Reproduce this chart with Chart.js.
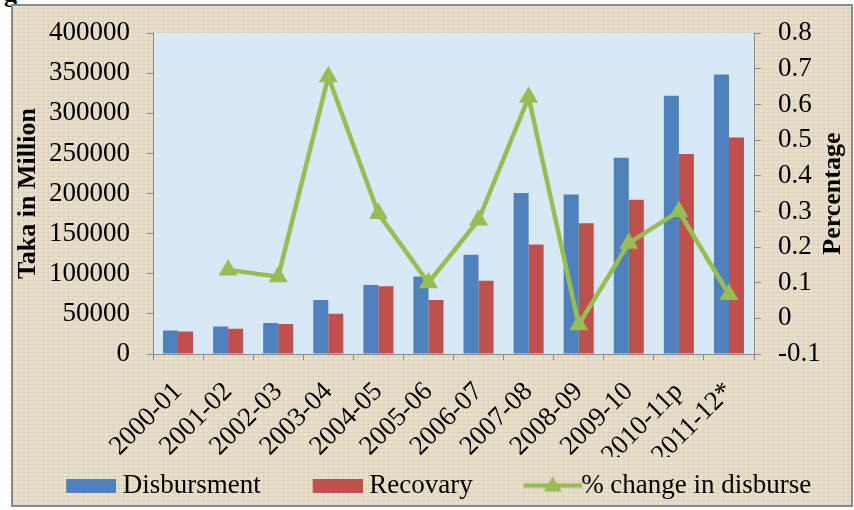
<!DOCTYPE html>
<html><head><meta charset="utf-8">
<script src="https://cdn.jsdelivr.net/npm/chart.js@4/dist/chart.umd.min.js"></script>
<style>
html,body{margin:0;padding:0;background:#fff;width:854px;height:510px;overflow:hidden;position:relative;}
#cut{position:absolute;left:4px;top:-21px;font:bold 26px "Liberation Serif",serif;color:#000;}
#frame{position:absolute;left:11px;top:4px;width:838px;height:499px;border:2px solid #8a8a8a;
 background-color:#e8dfcb;
 background-image:repeating-linear-gradient(0deg,rgba(140,120,90,.10) 0 1px,transparent 1px 4px),
 repeating-linear-gradient(90deg,rgba(140,120,90,.09) 0 1px,transparent 1px 5px);}
#wrap{position:absolute;left:0;top:0;width:854px;height:510px;}
</style></head>
<body>
<div id="cut">g</div>
<div id="frame"></div>
<div id="wrap"><canvas id="c" width="854" height="510"></canvas></div>
<script>
const categories = ['2000-01','2001-02','2002-03','2003-04','2004-05','2005-06','2006-07','2007-08','2008-09','2009-10','2010-11p','2011-12*'];
const disbursement = [29400,34300,38800,67300,86000,96600,123900,200600,199000,244600,322100,348600];
const recovery = [28100,31400,37500,50200,84400,67300,91300,136600,163100,192400,249500,270000];
const pctChange = [null,0.136,0.117,0.678,0.294,0.100,0.276,0.620,-0.018,0.211,0.300,0.067];
const seriesNames = ['Disbursment','Recovary','% change in disburse'];
const leftAxisTitle = 'Taka in Million';
const rightAxisTitle = 'Percentage';

const BLUE='#4f81bd', RED='#c0504d', GREEN='#98bd55';
const FAM='"Liberation Serif","Times New Roman",serif';
Chart.defaults.font.family = FAM;
Chart.defaults.color = '#000';

function boxImg(color){
  const c=document.createElement('canvas'); c.width=94; c.height=14;
  const g=c.getContext('2d'); g.fillStyle=color; g.fillRect(44,0,50,14); return c;
}
function lineImg(color){
  const c=document.createElement('canvas'); c.width=108; c.height=22;
  const g=c.getContext('2d');
  g.strokeStyle=color; g.lineWidth=4.5; g.beginPath(); g.moveTo(50,11); g.lineTo(108,11); g.stroke();
  g.fillStyle=color; g.beginPath(); g.moveTo(79,2); g.lineTo(88,17); g.lineTo(70,17); g.closePath(); g.fill();
  return c;
}
const legendImgs=[boxImg(BLUE),boxImg(RED),lineImg(GREEN)];

const plotBg={id:'plotBg',beforeDraw(chart){const {ctx,chartArea:a}=chart;ctx.save();ctx.fillStyle='#d9e8f5';ctx.fillRect(a.left,a.top,a.right-a.left,a.bottom-a.top);ctx.restore();}};
const rightTitle={id:'rightTitle',afterDraw(chart){const {ctx,chartArea:a}=chart;const s=chart.scales.y2;ctx.save();ctx.translate(833,(a.top+a.bottom)/2);ctx.rotate(-Math.PI/2);ctx.font='bold 26px '+FAM;ctx.textAlign='center';ctx.textBaseline='middle';ctx.fillStyle='#000';ctx.fillText(rightAxisTitle,0,0);ctx.restore();}};

new Chart(document.getElementById('c'),{
  data:{labels:categories,datasets:[
    {type:'bar',label:seriesNames[0],data:disbursement,backgroundColor:BLUE,yAxisID:'y',barPercentage:1,categoryPercentage:0.6,order:2},
    {type:'bar',label:seriesNames[1],data:recovery,backgroundColor:RED,yAxisID:'y',barPercentage:1,categoryPercentage:0.6,order:2},
    {type:'line',label:seriesNames[2],data:pctChange,borderColor:GREEN,backgroundColor:GREEN,borderWidth:4.5,yAxisID:'y2',
     pointStyle:'triangle',pointRadius:11,pointBackgroundColor:GREEN,pointBorderColor:GREEN,pointBorderWidth:0,tension:0,order:1}
  ]},
  options:{
    responsive:false,animation:false,
    layout:{padding:{left:0,right:13.5,top:27,bottom:1}},
    plugins:{
      tooltip:{enabled:false},
      legend:{position:'bottom',labels:{usePointStyle:true,pointStyleWidth:80,padding:15,color:'#000',font:{size:27,family:FAM},
        generateLabels:()=>seriesNames.map((t,i)=>({text:t,pointStyle:legendImgs[i],fillStyle:[BLUE,RED,GREEN][i],strokeStyle:'rgba(0,0,0,0)',lineWidth:0,hidden:false,datasetIndex:i,fontColor:'#000'}))}}
    },
    scales:{
      x:{offset:true,grid:{offset:true,drawOnChartArea:false,drawTicks:true,tickLength:6,color:'#8a8a8a'},border:{color:'#8a8a8a'},
        ticks:{font:{size:27},color:'#000',minRotation:45,maxRotation:45,autoSkip:false,padding:16},
        afterFit(s){s.height=103;}},
      y:{position:'left',min:0,max:400000,grid:{drawOnChartArea:false,tickLength:6,color:'#8a8a8a'},border:{color:'#8a8a8a'},
        ticks:{stepSize:50000,font:{size:27},color:'#000',padding:17,callback:v=>String(v)},
        title:{display:true,text:leftAxisTitle,font:{size:26,weight:'bold'},color:'#000',padding:{top:13,bottom:0}},
        afterFit(s){s.width=153;}},
      y2:{position:'right',min:-0.1,max:0.8,grid:{drawOnChartArea:false,tickLength:7,color:'#8a8a8a'},border:{color:'#8a8a8a'},
        ticks:{stepSize:0.1,font:{size:27},color:'#000',padding:17,callback:v=>String(+Number(v).toFixed(1))},
        afterFit(s){s.width=86.5;}}
    }
  },
  plugins:[plotBg,rightTitle]
});
</script>
</body></html>
